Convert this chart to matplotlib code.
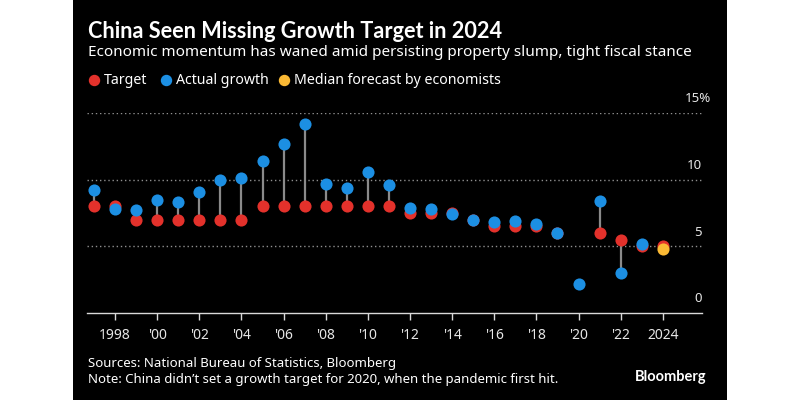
import matplotlib
matplotlib.use("Agg")
import matplotlib.pyplot as plt
import matplotlib.transforms as mtransforms
from matplotlib.lines import Line2D
from matplotlib.patches import Rectangle
import numpy as np

# ---- data ----
years = list(range(1997, 2025))
target = [8, 8, 7, 7, 7, 7, 7, 7, 8, 8, 8, 8, 8, 8, 8,
          7.5, 7.5, 7.5, 7, 6.5, 6.5, 6.5, 6, None, 6, 5.5, 5, 5]
actual = [9.2, 7.8, 7.7, 8.5, 8.3, 9.1, 10.0, 10.1, 11.4, 12.7, 14.2,
          9.7, 9.4, 10.6, 9.6, 7.9, 7.8, 7.4, 7.0, 6.8, 6.9, 6.7, 6.0,
          2.2, 8.4, 3.0, 5.2, None]
forecast_year = [2024]
forecast = [4.8]

tick_years = list(range(1998, 2025, 2))
tick_labels = ["1998"] + ["'%02d" % (y % 100) for y in tick_years[1:-1]] + ["2024"]
y_ticks = [0, 5, 10, 15]
y_labels = ["0", "5", "10", "15%"]

RED = "#e3312b"
BLUE = "#1c8fe3"
YELLOW = "#fbb934"
STEM = "#8a8a8a"
GRID = "#8f8f8f"

plt.rcParams["font.family"] = ["Noto Sans", "DejaVu Sans"]
BOLD = ["Lato", "Liberation Sans", "DejaVu Sans"]

fig = plt.figure(figsize=(8, 4), dpi=100)
fig.patch.set_facecolor("white")
fig.add_artist(Rectangle((73 / 800, 0), 654 / 800, 1, transform=fig.transFigure,
                         facecolor="black", edgecolor="none", zorder=0))

ax = fig.add_axes([87 / 800, 1 - 313 / 400, 615 / 800, 200 / 400])
ax.set_facecolor("none")
ax.set_xlim(1996.67, 2025.86)
ax.set_ylim(0, 15)

for s in ["top", "right", "left"]:
    ax.spines[s].set_visible(False)
ax.spines["bottom"].set_color("#d9d9d9")
ax.spines["bottom"].set_linewidth(1)

# dotted gridlines
for v in y_ticks[1:]:
    ax.axhline(v, color=GRID, lw=1, ls=(0, (1, 2)), zorder=1)

# y labels on the right, above the gridlines ("%" hangs past the edge)
for v, lab in zip(y_ticks, y_labels):
    dx = 9 if lab.endswith("%") else 0
    off = mtransforms.offset_copy(ax.get_yaxis_transform(), fig=fig, x=dx, y=14, units="dots")
    ax.text(1.0, v, lab, transform=off, ha="right", va="center",
            color="#e6e6e6", fontsize=9.5)

# stems between target and actual / forecast
yrs = np.array(years, dtype=float)
t = np.array([np.nan if v is None else v for v in target])
a = np.array([np.nan if v is None else v for v in actual])
both = ~np.isnan(t) & ~np.isnan(a)
ax.vlines(yrs[both], t[both], a[both], color=STEM, lw=1.6, zorder=2)
for fy, fv in zip(forecast_year, forecast):
    ax.vlines(fy, target[years.index(fy)], fv, color=STEM, lw=1.6, zorder=2)

ms = 76
ax.scatter(yrs, t, s=ms, color=RED, zorder=3, clip_on=False, linewidths=0)
ax.scatter(yrs, a, s=ms, color=BLUE, zorder=4, clip_on=False, linewidths=0)
ax.scatter(forecast_year, forecast, s=ms, color=YELLOW, zorder=5, clip_on=False, linewidths=0)

ax.set_yticks([])
ax.set_xticks(tick_years)
ax.set_xticklabels(tick_labels)
ax.tick_params(axis="x", colors="#d9d9d9", length=5, width=1, direction="out",
               pad=6, labelsize=10, labelcolor="#e6e6e6")

# title block
fig.text(88 / 800, 1 - 32 / 400, "China Seen Missing Growth Target in 2024",
         color="white", fontsize=15.6, fontweight="bold", family=BOLD,
         va="center", ha="left")
fig.text(88 / 800, 1 - 53 / 400,
         "Economic momentum has waned amid persisting property slump, tight fiscal stance",
         color="white", fontsize=11, va="center", ha="left")

legend_items = [("Target", RED, 94), ("Actual growth", BLUE, 166),
                ("Median forecast by economists", YELLOW, 284)]
for lab, col, x in legend_items:
    fig.add_artist(Line2D([x / 800], [1 - 80 / 400], marker="o", markersize=7.2,
                          color=col, lw=0, transform=fig.transFigure))
    fig.text((x + 10) / 800, 1 - 80 / 400, lab, color="white", fontsize=10.2,
             va="center", ha="left")

# footer
fig.text(88 / 800, 1 - 364 / 400, "Sources: National Bureau of Statistics, Bloomberg",
         color="white", fontsize=9.5, va="center", ha="left")
fig.text(88 / 800, 1 - 380 / 400,
         "Note: China didn\u2019t set a growth target for 2020, when the pandemic first hit.",
         color="white", fontsize=9.5, va="center", ha="left")
fig.text(706 / 800, 1 - 377 / 400, "Bloomberg", color="white", fontsize=10.5,
         fontweight="bold", family=BOLD, va="center", ha="right")

fig.savefig("out.png", dpi=100, facecolor=fig.get_facecolor())
